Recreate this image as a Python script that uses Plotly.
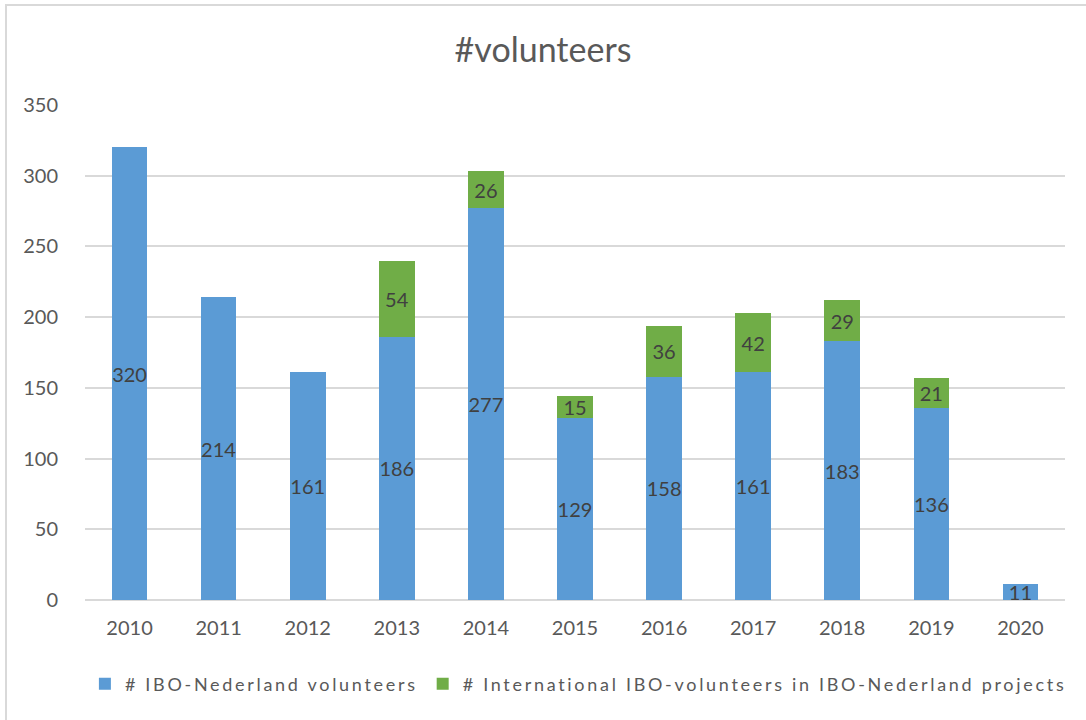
import plotly.graph_objects as go

years = ["2010", "2011", "2012", "2013", "2014", "2015", "2016", "2017", "2018", "2019", "2020"]
ibo_nl = [320, 214, 161, 186, 277, 129, 158, 161, 183, 136, 11]
international = [None, None, None, 54, 26, 15, 36, 42, 29, 21, None]

series_names = ["# IBO-Nederland volunteers",
                "# International IBO-volunteers in IBO-Nederland projects"]
y_ticks = [0, 50, 100, 150, 200, 250, 300, 350]

FONT = "Lato, 'Open Sans', sans-serif"
TXT = "#404040"
AX = "#595959"


def spaced(s):
    return '<span style="letter-spacing:2.7px">' + s + '</span>'


fig = go.Figure()
fig.add_trace(go.Bar(
    x=years, y=ibo_nl, name=spaced(series_names[0]),
    marker=dict(color="#5B9BD5", line=dict(width=0)),
    text=[str(v) for v in ibo_nl], textposition="inside", textangle=0,
    insidetextanchor="middle", constraintext="none",
    textfont=dict(family=FONT, size=20, color=TXT),
))
fig.add_trace(go.Bar(
    x=years, y=international, name=spaced(series_names[1]),
    marker=dict(color="#70AD47", line=dict(width=0)),
    text=[str(v) if v is not None else "" for v in international],
    textposition="inside", textangle=0, insidetextanchor="middle", constraintext="none",
    textfont=dict(family=FONT, size=20, color=TXT),
))

fig.update_layout(
    barmode="stack",
    bargap=0.6,
    width=1086, height=720,
    paper_bgcolor="white", plot_bgcolor="white",
    margin=dict(l=85, r=21, t=105, b=120),
    font=dict(family=FONT, color=AX),
    title=dict(text="#volunteers", x=0.5, xanchor="center", y=1 - 50 / 720, yanchor="middle",
               font=dict(family=FONT, size=34, color=AX)),
    xaxis=dict(showgrid=False, showline=False, zeroline=False,
               tickfont=dict(family=FONT, size=20, color=AX),
               ticks="outside", ticklen=10, tickcolor="rgba(0,0,0,0)"),
    yaxis=dict(range=[0, 350], tickvals=y_ticks, showgrid=True, gridcolor="#D9D9D9", gridwidth=1.5,
               zeroline=True, zerolinecolor="#D9D9D9", zerolinewidth=1.5, showline=False,
               tickfont=dict(family=FONT, size=20, color=AX),
               ticks="outside", ticklen=22, tickcolor="rgba(0,0,0,0)"),
    legend=dict(orientation="h", x=-0.0001, xanchor="left", y=-84 / 495, yanchor="middle",
                font=dict(family=FONT, size=18, color=AX), traceorder="normal",
                itemwidth=30, itemsizing="constant", tracegroupgap=0),
    shapes=[
        dict(type="line", xref="paper", yref="paper", x0=-80 / 980, x1=1.03, y0=1 + 100 / 495, y1=1 + 100 / 495,
             line=dict(color="#D9D9D9", width=2)),
        dict(type="line", xref="paper", yref="paper", x0=-79 / 980, x1=-79 / 980, y0=1 + 100 / 495, y1=-0.25,
             line=dict(color="#D9D9D9", width=2)),
    ],
)

fig.write_html("out.html", config={"displayModeBar": False},
               post_script="document.body.style.margin='0';")
